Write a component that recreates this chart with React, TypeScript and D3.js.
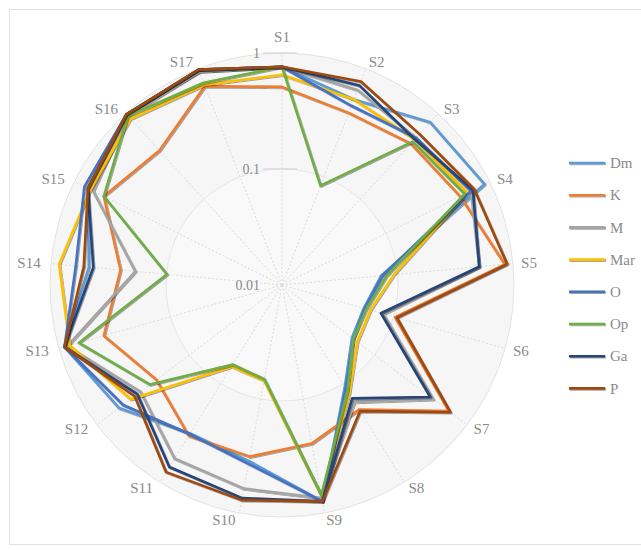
import React from 'react';
import * as d3 from 'd3';

const categories = ['S1','S2','S3','S4','S5','S6','S7','S8','S9','S10','S11','S12','S13','S14','S15','S16','S17'];
const seriesNames = ['Dm','K','M','Mar','O','Op','Ga','P'];
const seriesColors = ['#5B9BD5','#ED7D31','#A5A5A5','#FFC000','#4472C4','#70AD47','#264478','#9E480E'];

const dmValues = [0.76,0.52,0.79,0.89,0.072,0.054,0.057,0.107,0.79,0.35,0.32,0.575,0.89,0.47,0.74,0.98,0.94];
const kValues  = [0.51,0.39,0.445,0.52,0.85,0.103,0.635,0.183,0.246,0.32,0.337,0.227,0.395,0.25,0.52,0.37,0.69];
const mValues  = [0.76,0.635,0.52,0.66,0.51,0.081,0.43,0.153,0.74,0.61,0.575,0.337,0.84,0.186,0.66,0.94,0.94];
const maValues = [0.65,0.52,0.50,0.61,0.093,0.062,0.065,0.126,0.70,0.069,0.067,0.43,0.80,0.85,0.70,0.87,0.71];
const oValues  = [0.76,0.454,0.52,0.66,0.074,0.055,0.059,0.111,0.79,0.37,0.324,0.52,0.89,0.61,0.80,0.98,0.98];
const opValues = [0.76,0.083,0.47,0.575,0.081,0.057,0.059,0.118,0.70,0.067,0.064,0.266,0.66,0.099,0.52,0.94,0.74];
const gaValues = [0.76,0.70,0.50,0.69,0.51,0.077,0.40,0.141,0.79,0.74,0.70,0.365,0.89,0.43,0.74,0.98,0.98];
const pValues  = [0.76,0.76,0.575,0.71,0.89,0.107,0.66,0.19,0.79,0.77,0.79,0.39,0.89,0.52,0.74,0.98,0.98];

const allSeries = [dmValues,kValues,mValues,maValues,oValues,opValues,gaValues,pValues];

const tickValues = [0.01, 0.1, 1];
const tickLabels = ['0.01','0.1','1'];

const W = 641, H = 550;
const cx = 282, cy = 285;
const R = 232;

export default function App() {
  const r = d3.scaleLog().domain([0.01, 1]).range([0, R]);
  const n = categories.length;
  const ang = (i: number) => (i * 2 * Math.PI) / n;
  const line = d3.lineRadial<number>()
    .angle((_, i) => ang(i))
    .radius((d) => r(d))
    .curve(d3.curveLinearClosed);

  const labelPos = (i: number) => {
    const a = ang(i);
    const s = Math.sin(a), c = Math.cos(a);
    const hw = categories[i].length > 2 ? 14 : 8;
    const x = cx + 240 * s + (Math.abs(s) < 1e-6 ? 0 : Math.sign(s) * hw);
    const y = cy - 239 * c + (i === 0 ? -9 : 0);
    return [x, y];
  };

  return (
    <svg width={W} height={H} style={{ position: 'absolute', left: 0, top: 0, background: '#fff' }}
      fontFamily="'Liberation Serif', 'DejaVu Serif', serif">
      <defs>
        <filter id="sh" filterUnits="userSpaceOnUse" x={-700} y={-700} width={2000} height={2000}>
          <feDropShadow dx="0.8" dy="0.8" stdDeviation="0.7" floodColor="#000" floodOpacity="0.45" />
        </filter>
      </defs>
      <rect x={0} y={0} width={W} height={H} fill="#fff" />
      <rect x={9.5} y={9.5} width={W} height={535} fill="none" stroke="#e2e2e2" />
      <g transform={`translate(${cx},${cy})`}>
        <circle r={r(1)} fill="#f6f6f6" stroke="#e3e3e3" />
        <circle r={r(0.1)} fill="#f9f9f9" stroke="#e6e6e6" />
        {categories.map((c, i) => (
          <line key={c} x1={0} y1={0}
            x2={r(1) * Math.sin(ang(i))} y2={-r(1) * Math.cos(ang(i))}
            stroke="#dcdcdc" strokeDasharray="2,2" />
        ))}
        {tickValues.map((t, i) => (
          <g key={t}>
            {t > 0.01 && <line x1={-19} x2={15} y1={-r(t)} y2={-r(t)} stroke="#cfcfcf" />}
            <text x={-22} y={-r(t)} dy="0.35em" textAnchor="end" fontSize={14} fill="#8a8a8a">{tickLabels[i]}</text>
          </g>
        ))}
        {allSeries.map((s, k) => (
          <path key={seriesNames[k]} d={line(s) || ''} fill="none" stroke={seriesColors[k]}
            strokeWidth={2.6} strokeLinejoin="round" filter="url(#sh)" />
        ))}
      </g>
      {categories.map((c, i) => {
        const [x, y] = labelPos(i);
        return <text key={c} x={x} y={y} dy="0.35em" textAnchor="middle" fontSize={15} fill="#8a8a8a">{c}</text>;
      })}
      {seriesNames.map((s, k) => {
        const y = 163 + k * 32.2;
        return (
          <g key={s}>
            <line x1={569} x2={605} y1={y} y2={y} stroke={seriesColors[k]} strokeWidth={2.6} filter="url(#sh)" />
            <text x={610} y={y} dy="0.35em" fontSize={15} fill="#8a8a8a">{s}</text>
          </g>
        );
      })}
    </svg>
  );
}
